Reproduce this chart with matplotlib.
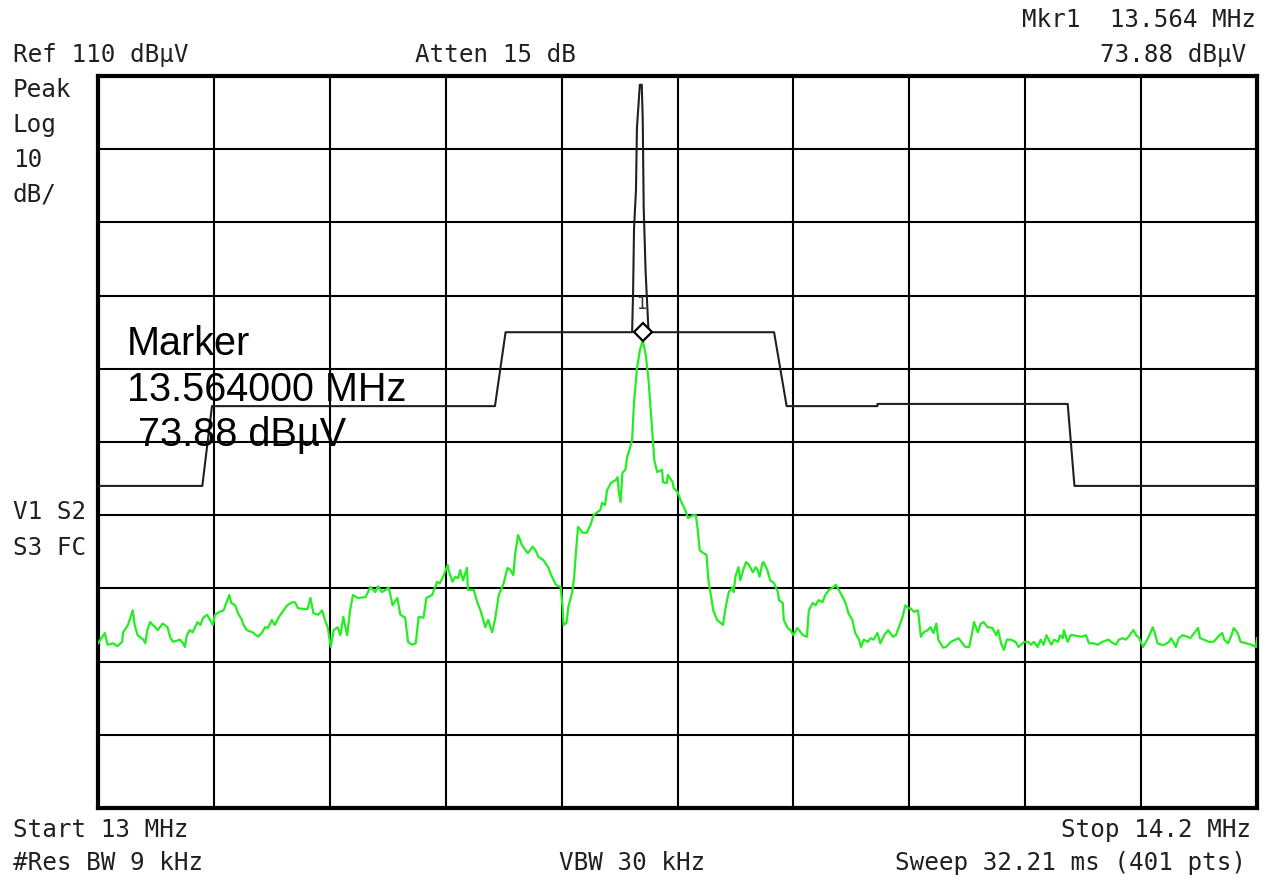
import matplotlib.pyplot as plt
import matplotlib.transforms as mtransforms
import numpy as np

# sweep settings
f_start, f_stop = 13.0, 14.2      # MHz
ref_level, db_per_div = 110, 10   # dBuV
mkr_freq, mkr_level = 13.564, 73.88

# measured trace: offset from start in kHz, level in dBuV
trace_khz = [0, 7, 10, 16, 20, 25, 26, 31, 35, 36, 38, 41, 47, 49, 51, 54, 59, 62, 67, 72,
             75, 78, 85, 88, 90, 92, 95, 98, 103, 106, 109, 113, 116, 119, 121, 126, 130, 134, 136, 138,
             142, 145, 149, 150, 154, 160, 166, 170, 173, 176, 180, 183, 187, 191, 196, 201, 204, 207, 212, 217,
             220, 223, 228, 232, 235, 238, 241, 244, 248, 251, 254, 258, 261, 264, 269, 277, 282, 287, 290, 294,
             301, 305, 310, 313, 318, 321, 325, 329, 332, 337, 340, 346, 351, 354, 358, 362, 363, 367, 370, 373,
             375, 378, 382, 383, 389, 393, 396, 401, 404, 408, 411, 415, 420, 424, 427, 430, 432, 435, 439, 445,
             450, 453, 456, 461, 466, 470, 474, 479, 481, 482, 485, 487, 491, 493, 495, 497, 502, 506, 510, 513,
             517, 520, 522, 525, 527, 531, 536, 538, 539, 541, 543, 546, 548, 551, 553, 555, 558, 561, 564, 567,
             570, 573, 576, 579, 584, 585, 589, 590, 595, 596, 600, 603, 608, 611, 616, 619, 621, 623, 627, 630,
             632, 635, 637, 641, 647, 650, 653, 657, 658, 660, 663, 665, 668, 671, 674, 678, 681, 683, 685, 688,
             689, 693, 696, 700, 704, 705, 709, 710, 714, 717, 720, 724, 730, 734, 736, 740, 743, 746, 750, 753,
             757, 761, 764, 767, 771, 774, 777, 781, 784, 788, 790, 793, 797, 800, 803, 807, 810, 814, 818, 823,
             826, 829, 833, 836, 839, 841, 845, 849, 852, 855, 859, 862, 865, 868, 870, 875, 878, 883, 888, 891,
             895, 898, 902, 905, 907, 911, 914, 917, 921, 926, 930, 932, 935, 938, 941, 945, 950, 953, 959, 963,
             966, 969, 973, 976, 979, 982, 987, 990, 994, 996, 999, 1000, 1004, 1007, 1010, 1018, 1023, 1026, 1031, 1035,
             1040, 1046, 1049, 1054, 1057, 1061, 1064, 1067, 1072, 1075, 1078, 1082, 1085, 1088, 1092, 1094, 1097, 1101, 1104, 1109,
             1111, 1114, 1116, 1119, 1123, 1128, 1131, 1135, 1139, 1141, 1145, 1150, 1155, 1161, 1164, 1166, 1170, 1173, 1176, 1180,
             1183, 1189, 1194, 1199, 1200]
trace_dbuv = [32.5, 33.9, 32.3, 32.5, 32.1, 32.7, 34.0, 35.0, 36.6, 37.0, 35.0, 33.6, 33.0, 32.5, 34.3, 35.4, 34.7, 34.3, 35.2, 34.7,
              33.2, 32.7, 33.0, 32.5, 32.0, 33.6, 34.3, 34.0, 35.4, 35.0, 36.0, 36.4, 35.7, 35.0, 36.4, 36.8, 37.0, 38.4, 39.1, 38.0,
              37.7, 36.6, 35.7, 35.2, 34.3, 34.0, 33.4, 34.0, 34.7, 34.6, 35.7, 35.0, 36.0, 36.8, 37.7, 38.1, 38.1, 37.3, 37.2, 37.2,
              38.7, 36.6, 36.4, 37.0, 35.7, 34.6, 32.0, 34.3, 34.7, 33.6, 36.1, 33.6, 37.0, 39.1, 38.7, 38.8, 40.2, 39.5, 40.3, 39.5,
              40.1, 37.7, 38.7, 36.4, 36.0, 32.7, 32.3, 32.5, 36.1, 36.0, 38.7, 39.1, 40.9, 40.7, 41.8, 43.2, 42.5, 40.9, 41.6, 41.4,
              42.5, 41.1, 42.8, 39.8, 39.8, 38.0, 37.0, 34.7, 35.7, 34.0, 35.7, 39.1, 40.7, 42.8, 42.5, 41.8, 44.8, 47.3, 45.9, 44.8,
              45.7, 45.2, 44.3, 43.9, 42.9, 41.6, 40.5, 40.2, 37.5, 35.0, 35.3, 37.5, 39.5, 41.6, 45.2, 48.4, 47.6, 47.6, 48.7, 50.0,
              50.4, 50.7, 51.7, 51.4, 53.4, 54.4, 54.8, 55.2, 53.4, 51.8, 55.8, 56.2, 58.0, 59.3, 60.3, 65.5, 70.0, 72.5, 73.88, 72.0,
              68.5, 63.0, 57.5, 55.9, 56.2, 54.5, 54.4, 55.5, 54.5, 53.7, 53.2, 52.1, 50.7, 49.6, 50.0, 50.0, 48.0, 45.2, 44.8, 44.6,
              41.1, 38.7, 37.0, 35.7, 35.0, 37.5, 39.5, 40.1, 39.5, 41.6, 42.9, 41.1, 42.5, 43.6, 43.2, 42.2, 42.9, 42.5, 41.6, 43.5,
              43.6, 42.5, 41.1, 40.7, 39.5, 38.4, 38.0, 35.7, 34.6, 34.3, 33.6, 34.6, 33.6, 33.4, 37.0, 38.0, 37.7, 38.4, 38.1, 39.1,
              39.8, 40.1, 40.5, 39.8, 38.8, 38.0, 36.6, 35.7, 33.9, 33.0, 32.0, 33.0, 32.7, 33.2, 33.0, 33.9, 32.5, 33.6, 34.3, 33.4,
              33.6, 34.6, 36.1, 37.7, 37.3, 37.3, 36.8, 37.0, 33.4, 34.0, 34.3, 34.7, 33.9, 35.2, 33.0, 31.9, 32.0, 32.7, 33.0, 33.2,
              32.5, 32.0, 32.0, 33.9, 35.4, 34.0, 35.2, 35.4, 34.7, 34.6, 33.6, 34.3, 32.5, 31.6, 33.0, 33.0, 32.7, 32.0, 32.7, 32.7,
              32.3, 32.7, 32.0, 33.0, 32.3, 33.6, 32.3, 33.0, 32.7, 33.6, 33.2, 34.3, 32.7, 33.6, 33.6, 33.4, 33.6, 32.5, 32.5, 32.3,
              32.7, 33.0, 32.7, 32.3, 33.0, 33.2, 33.0, 33.4, 34.3, 33.6, 33.2, 32.0, 32.7, 33.4, 34.7, 34.0, 32.5, 32.3, 32.3, 32.7,
              33.2, 32.5, 32.0, 33.2, 33.6, 33.4, 33.2, 33.9, 34.6, 33.2, 33.0, 32.7, 32.7, 33.6, 33.9, 33.0, 32.5, 33.4, 34.6, 33.9,
              32.7, 32.5, 32.3, 32.0, 33.2]

# limit line vertices: offset in kHz, level in dBuV
limit_khz = [0, 108, 118, 411, 422, 553, 554, 555, 557, 558, 561, 563, 564, 565, 567, 569, 570,
             700, 713, 807, 807, 1004, 1011, 1200]
limit_dbuv = [54.0, 54.0, 64.9, 64.9, 75.0, 75.0, 80.4, 89.2, 94.4, 102.9, 108.8, 108.8, 104.0, 92.0, 83.2,
              77.8, 75.0, 75.0, 64.9, 64.9, 65.2, 65.2, 54.0, 54.0]

W, H = 1269, 884
fig = plt.figure(figsize=(W / 100, H / 100), dpi=100)
ax = fig.add_axes([98 / W, 1 - 808 / H, (1257 - 98) / W, (808 - 76) / H])

f_trace = f_start + np.array(trace_khz) / 1000.0
f_limit = f_start + np.array(limit_khz) / 1000.0

ax.plot(f_limit, limit_dbuv, color='#202020', lw=1.5, zorder=3)
ax.plot(f_trace, trace_dbuv, color='#22ee22', lw=1.6, zorder=4)

# marker diamond drawn a little above the trace point
up = mtransforms.offset_copy(ax.transData, fig=fig, x=0, y=6, units='points')
ax.plot([mkr_freq], [mkr_level], marker='D', ms=9, mfc='white', mec='black',
        mew=1.6, transform=up, zorder=5)
ax.annotate('1', (mkr_freq, mkr_level), xytext=(-1, 26), textcoords='offset points',
            ha='center', va='center', fontsize=12, family='DejaVu Sans Mono', color='#303030')

bottom = ref_level - 10 * db_per_div
ax.set_xlim(f_start, f_stop)
ax.set_ylim(bottom, ref_level)
ax.set_xticks(np.linspace(f_start, f_stop, 11))
ax.set_yticks(np.arange(bottom, ref_level + 1, db_per_div))
ax.tick_params(length=0, labelbottom=False, labelleft=False)
ax.grid(True, color='black', lw=1.5)
ax.set_axisbelow(True)
for s in ax.spines.values():
    s.set_linewidth(3)
    s.set_color('black')

mono = dict(family='DejaVu Sans Mono', fontsize=17.5, color='#202020')


def label(x, y, s, ha='left'):
    fig.text(x / W, 1 - y / H, s, ha=ha, va='center', **mono)


label(13, 55, 'Ref 110 dBµV')
label(415, 55, 'Atten 15 dB')
label(1256, 20, 'Mkr1  13.564 MHz', ha='right')
label(1246, 55, '73.88 dBµV', ha='right')
for i, s in enumerate(['Peak', 'Log', '10', 'dB/']):
    label(13, 90 + 35 * i, s)
label(13, 512, 'V1 S2')
label(13, 548, 'S3 FC')
label(13, 830, 'Start 13 MHz')
label(1251, 830, 'Stop 14.2 MHz', ha='right')
label(13, 863, '#Res BW 9 kHz')
label(632, 863, 'VBW 30 kHz', ha='center')
label(1246, 863, 'Sweep 32.21 ms (401 pts)', ha='right')

big = dict(family='Liberation Sans', fontsize=28.5, color='black', va='baseline')
fig.text(127 / W, 1 - 355 / H, 'Marker', **big)
fig.text(127 / W, 1 - 401 / H, '13.564000 MHz', **big)
fig.text(127 / W, 1 - 446 / H, ' 73.88 dBµV', **big)

fig.savefig('out.png', dpi=100, facecolor='white')
